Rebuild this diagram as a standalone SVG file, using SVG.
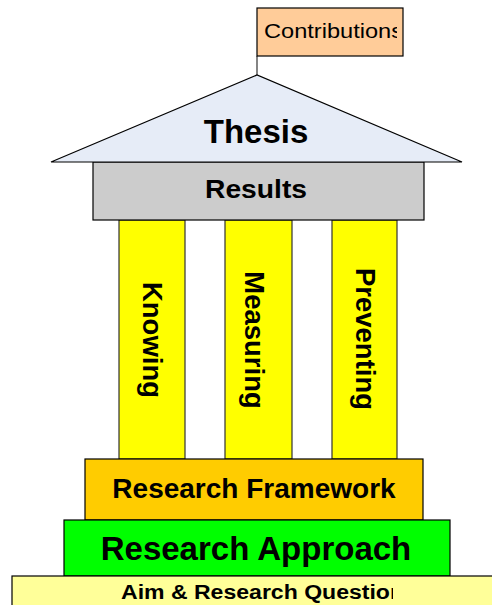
<svg xmlns="http://www.w3.org/2000/svg" width="492" height="605" viewBox="0 0 492 605">
  <defs>
    <style>
      .box { stroke: #000; stroke-width: 1.2; }
      .lbl { font-family: "Liberation Sans", Arial, sans-serif; font-weight: bold; fill: #000; }
      .pillar { fill: #ffff00; stroke: #333; stroke-width: 1.2; }
      .conn { stroke: #333; stroke-width: 1.2; fill: none; }
    </style>
    <clipPath id="clipContrib"><rect x="257" y="8" width="140" height="48"/></clipPath>
    <clipPath id="clipAim"><rect x="12" y="576" width="381" height="40"/></clipPath>
  </defs>

  <rect width="492" height="605" fill="#fff"/>

  <!-- connectors -->
  <g id="connectors">
    <line class="conn" x1="257" y1="56" x2="257" y2="75"/>
  </g>

  <!-- pillars -->
  <g id="knowing">
    <rect class="pillar" x="119" y="220" width="66" height="239"/>
    <text class="lbl" font-size="27.5" text-anchor="middle" y="9.8" transform="translate(153,340) rotate(90)">Knowing</text>
  </g>
  <g id="measuring">
    <rect class="pillar" x="225" y="220" width="67" height="239"/>
    <text class="lbl" font-size="27.5" text-anchor="middle" y="9.8" transform="translate(255,340) rotate(90)">Measuring</text>
  </g>
  <g id="preventing">
    <rect class="pillar" x="332" y="220" width="65" height="239"/>
    <text class="lbl" font-size="27.5" text-anchor="middle" y="9.8" transform="translate(366,339) rotate(90)">Preventing</text>
  </g>

  <!-- entablature -->
  <g id="results">
    <rect class="box" x="93" y="162" width="331" height="58" fill="#cccccc"/>
    <text class="lbl" font-size="26.5" x="205" y="198" textLength="102" lengthAdjust="spacingAndGlyphs">Results</text>
  </g>

  <!-- roof -->
  <g id="thesis">
    <polygon class="box" points="51,162 257,75 462,162" fill="#e6ecf7"/>
    <text class="lbl" font-size="33" text-anchor="middle" x="256" y="143">Thesis</text>
  </g>

  <!-- flag -->
  <g id="contributions">
    <rect class="box" x="257" y="8" width="146" height="48" fill="#ffcc99"/>
    <g clip-path="url(#clipContrib)">
      <text font-family="Liberation Sans, Arial, sans-serif" font-size="20" fill="#000" x="264" y="38" textLength="139" lengthAdjust="spacingAndGlyphs">Contributions</text>
    </g>
  </g>

  <!-- base steps -->
  <g id="framework">
    <rect class="box" x="85" y="459" width="338" height="61" fill="#ffcc00"/>
    <text class="lbl" font-size="28" text-anchor="middle" x="254" y="498">Research Framework</text>
  </g>
  <g id="approach">
    <rect class="box" x="64" y="520" width="386" height="56" fill="#00ff00"/>
    <text class="lbl" font-size="33" text-anchor="middle" x="256" y="560">Research Approach</text>
  </g>
  <g id="aim">
    <rect class="box" x="12" y="576" width="490" height="40" fill="#ffff99"/>
    <g clip-path="url(#clipAim)">
      <text class="lbl" font-size="20" x="121" y="599" textLength="283" lengthAdjust="spacingAndGlyphs">Aim &amp; Research Question</text>
    </g>
  </g>
</svg>
